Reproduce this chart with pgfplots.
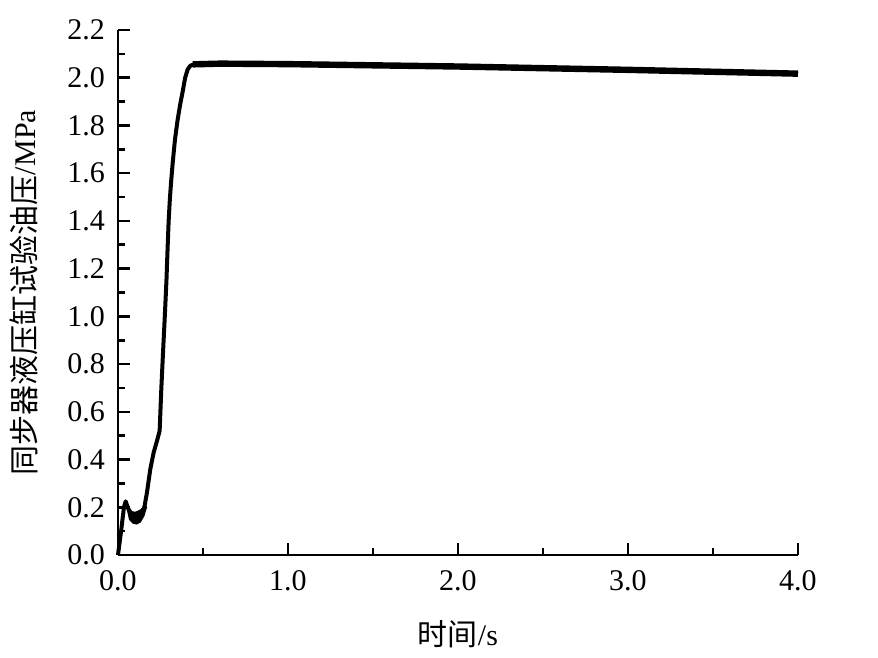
\documentclass[border=0pt]{standalone}
\usepackage{pgfplots}
\pgfplotsset{compat=1.18}
\usepackage{fontspec}
\setmainfont{Liberation Serif}
\newfontfamily\cjk{Noto Sans CJK SC}
\begin{document}
\begin{tikzpicture}
\begin{axis}[
  scale only axis,
  width=340pt, height=262.5pt,
  xmin=0, xmax=4, ymin=0, ymax=2.2,
  axis x line*=bottom, axis y line*=left,
  axis line style={line width=1.3pt},
  tick style={line width=1.3pt, black},
  tick align=inside,
  major tick length=6pt, minor tick length=3.5pt,
  xtick={0,1,2,3,4}, minor x tick num=1,
  ytick={0,0.2,...,2.21}, minor y tick num=1,
  /pgf/number format/assume math mode=true,
  xticklabel style={/pgf/number format/fixed, /pgf/number format/fixed zerofill, /pgf/number format/precision=1, yshift=-4pt},
  yticklabel style={/pgf/number format/fixed, /pgf/number format/fixed zerofill, /pgf/number format/precision=1, xshift=-3pt},
  ticklabel style={font=\fontsize{15}{18}\selectfont},
  xlabel={{\cjk 时间}/s},
  ylabel={{\cjk 同步器液压缸试验油压}/MPa},
  label style={font=\fontsize{15}{18}\selectfont},
  xlabel style={yshift=-8pt},
  ylabel style={yshift=8pt},
  clip=false,
]
\coordinate (O) at (rel axis cs:0,0);
\addplot[black, line width=2pt, line join=round] coordinates {
(0,0) (0.02,0.11) (0.035,0.2) (0.045,0.225) (0.06,0.195) (0.08,0.168)
(0.1,0.158) (0.12,0.162) (0.14,0.178) (0.155,0.2) (0.17,0.26) (0.19,0.36)
(0.21,0.43) (0.23,0.48) (0.245,0.52) (0.255,0.7) (0.265,0.85) (0.276,1.01)
(0.285,1.15) (0.292,1.29) (0.298,1.40) (0.305,1.49) (0.312,1.56) (0.322,1.645)
(0.335,1.74) (0.35,1.82) (0.365,1.885) (0.38,1.94)
(0.395,2.0) (0.41,2.035) (0.425,2.05) (0.45,2.057) (0.6,2.06) (1.0,2.058)
(1.5,2.053) (2.0,2.048) (2.5,2.041) (3.0,2.034) (3.5,2.026) (4.0,2.018)
};
\addplot[black, fill=black, line width=1pt] coordinates {
(0.045,0.225) (0.06,0.195) (0.08,0.18) (0.1,0.177) (0.12,0.182) (0.14,0.19) (0.155,0.205)
(0.165,0.2) (0.15,0.165) (0.13,0.14) (0.11,0.132) (0.09,0.135) (0.07,0.15) (0.055,0.2)
} -- cycle;
\addplot[black, line width=3.2pt] coordinates {
(0.44,2.056) (0.6,2.059) (1.0,2.057) (1.5,2.052) (2.0,2.047) (2.5,2.040) (3.0,2.033) (3.5,2.025) (4.0,2.017)
};
\end{axis}
\pgfresetboundingbox
\path[use as bounding box] ([shift={(-59pt,-51.5pt)}]O) rectangle ([shift={(380pt,277.5pt)}]O);
\end{tikzpicture}
\end{document}
